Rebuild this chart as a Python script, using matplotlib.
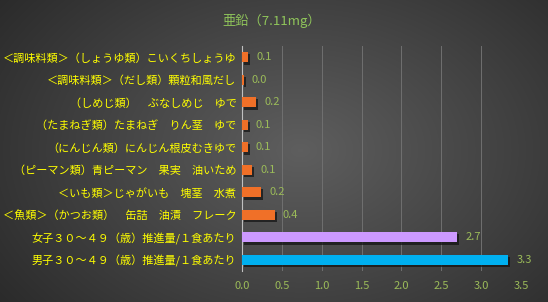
import numpy as np
import matplotlib
matplotlib.use('Agg')
import matplotlib.pyplot as plt
import matplotlib.patheffects as pe

plt.rcParams['font.family'] = ['Noto Sans CJK JP', 'DejaVu Sans']

# data, top to bottom as drawn
labels = ['＜調味料類＞（しょうゆ類）こいくちしょうゆ',
          '＜調味料類＞（だし類）顆粒和風だし',
          '（しめじ類）　ぶなしめじ　ゆで',
          '（たまねぎ類）たまねぎ　りん茎　ゆで',
          '（にんじん類）にんじん根皮むきゆで',
          '（ピーマン類）青ピーマン　果実　油いため',
          '＜いも類＞じゃがいも　塊茎　水煮',
          '＜魚類＞（かつお類）　缶詰　油漬　フレーク',
          '女子３０～４９（歳）推進量/１食あたり',
          '男子３０～４９（歳）推進量/１食あたり']
values = [0.08, 0.02, 0.18, 0.07, 0.07, 0.13, 0.24, 0.41, 2.70, 3.34]
colors = ['#f07028'] * 8 + ['#cc99ff', '#00b0f0']
title = '亜鉛（7.11mg）'
xticks = [0.0, 0.5, 1.0, 1.5, 2.0, 2.5, 3.0, 3.5]

fig = plt.figure(figsize=(5.48, 3.02), dpi=100)

# radial gradient background
bg = fig.add_axes([0, 0, 1, 1], zorder=-1)
yy, xx = np.mgrid[0:302, 0:548]
r = np.sqrt(((xx - 300) / 330.0) ** 2 + ((yy - 150) / 230.0) ** 2)
shade = np.clip(0.37 - 0.18 * r, 0.13, 0.37)
bg.imshow(np.dstack([shade] * 3), aspect='auto', extent=[0, 1, 0, 1])
bg.axis('off')

ax = fig.add_axes([0.4416, 0.1026, 0.5091, 0.7451])
ax.patch.set_alpha(0)
pos = np.arange(len(labels))
bars = ax.barh(pos, values, height=0.46, color=colors, zorder=3)
for b in bars:
    b.set_path_effects([pe.SimplePatchShadow(offset=(1.5, -1.5), shadow_rgbFace='#111111', alpha=0.7),
                        pe.Normal()])
for p, v in zip(pos, values):
    ax.text(v + 0.1, p, f'{v:.1f}', va='center', ha='left', color='#9bbb59', fontsize=8)

ax.set_xlim(0, 3.5)
ax.set_ylim(len(labels) - 0.5, -0.5)
ax.set_xticks(xticks)
ax.set_xticklabels([f'{t:.1f}' for t in xticks])
ax.set_yticks(pos)
ax.set_yticklabels(labels)
ax.tick_params(axis='x', colors='#9bbb59', labelsize=8, length=0, pad=7)
ax.tick_params(axis='y', colors='#ffff00', labelsize=8, length=0, pad=4)
ax.xaxis.grid(True, color='#707070', linewidth=0.7, zorder=0)
for s in ['top', 'right', 'bottom']:
    ax.spines[s].set_visible(False)
ax.spines['left'].set_color('#c0c0c0')
ax.spines['left'].set_linewidth(0.8)

fig.text(0.495, 0.93, title, ha='center', va='center', color='#8fc45a', fontsize=9.5)

fig.savefig('out.png', dpi=100)
